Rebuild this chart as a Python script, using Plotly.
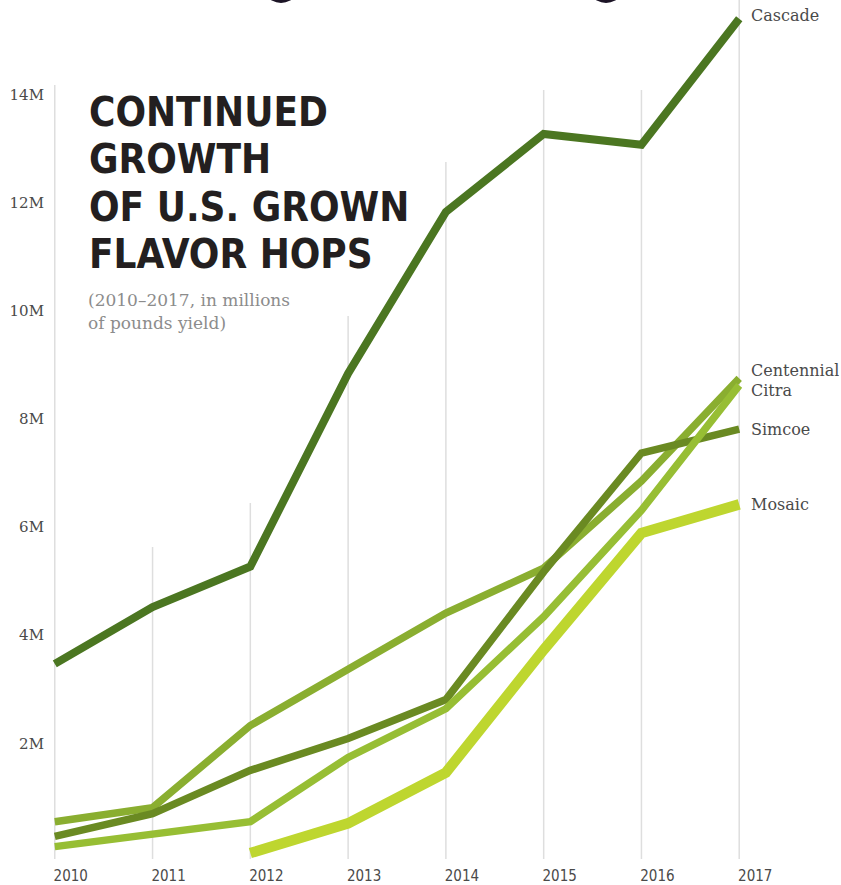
import plotly.graph_objects as go

# ---------------- data (millions of pounds) ----------------
years = [2010, 2011, 2012, 2013, 2014, 2015, 2016, 2017]
cascade = [3.47, 4.52, 5.27, 8.84, 11.83, 13.27, 13.07, 15.40]
centennial = [0.55, 0.81, 2.33, 3.38, 4.41, 5.24, 6.85, 8.75]
simcoe = [0.28, 0.70, 1.50, 2.09, 2.81, 5.17, 7.37, 7.81]
citra = [0.09, 0.31, 0.55, 1.74, 2.64, 4.34, 6.31, 8.62]
mosaic_years = [2012, 2013, 2014, 2015, 2016, 2017]
mosaic = [-0.03, 0.52, 1.46, 3.73, 5.89, 6.42]

series_names = ["Cascade", "Centennial", "Simcoe", "Citra", "Mosaic"]
y_tick_vals = [2, 4, 6, 8, 10, 12, 14]
y_tick_text = ["2M", "4M", "6M", "8M", "10M", "12M", "14M"]
title_lines = ["CONTINUED", "GROWTH", "OF U.S. GROWN", "FLAVOR HOPS"]
subtitle_lines = ["(2010\u20132017, in millions", "of pounds yield)"]

# ---------------- layout geometry ----------------
W, H = 841, 885
ML, MR, MT, MB = 45, 92, 8, 20
PW, PH = W - ML - MR, H - MT - MB
XR = [2009.9, 2017.1]
YR = [-0.25, 15.6]

def px_x(px):
    return (px - ML) / PW

def px_y(py):
    return 1 - (py - MT) / PH

colors = {
    "Cascade": "#4b7621",
    "Centennial": "#8aae30",
    "Simcoe": "#6a8a22",
    "Citra": "#97be34",
    "Mosaic": "#bed62f",
}
widths = {"Cascade": 8, "Centennial": 7.5, "Simcoe": 7.5, "Citra": 7.5, "Mosaic": 10.5}

fig = go.Figure()
data_map = {
    "Cascade": (years, cascade),
    "Centennial": (years, centennial),
    "Simcoe": (years, simcoe),
    "Citra": (years, citra),
    "Mosaic": (mosaic_years, mosaic),
}
for name in series_names:
    xs, ys = data_map[name]
    fig.add_trace(go.Scatter(
        x=xs, y=ys, mode="lines", name=name,
        line=dict(color=colors[name], width=widths[name]),
        hoverinfo="skip",
    ))

# vertical guide lines of varying heights (pixel tops)
grid_tops_px = [85, 547, 503, 316, 162, 90, 90, -20]
shapes = []
for yr, top in zip(years, grid_tops_px):
    shapes.append(dict(
        type="line", xref="x", yref="paper", x0=yr, x1=yr,
        y0=px_y(859), y1=px_y(top), layer="below",
        line=dict(color="#dedede", width=1.5),
    ))

# cropped dark artwork at the very top
for cx in [281, 606]:
    shapes.append(dict(
        type="circle", xref="paper", yref="paper",
        x0=px_x(cx - 24), x1=px_x(cx + 24),
        y0=px_y(3), y1=px_y(-60),
        fillcolor="#1c1426", line=dict(width=0), layer="above",
    ))

annotations = []
label_font = dict(family="DejaVu Serif", size=16, color="#4a4a4a")
label_shift = {"Cascade": 4, "Centennial": 8, "Simcoe": 0, "Citra": -5, "Mosaic": 0}
for name in series_names:
    xs, ys = data_map[name]
    annotations.append(dict(
        x=xs[-1], y=ys[-1], xref="x", yref="y", text=name,
        showarrow=False, xanchor="left", yanchor="middle",
        xshift=10, yshift=label_shift[name], font=label_font,
        height=18,
    ))

title_y_px = [112, 159, 207, 254]
for line, py in zip(title_lines, title_y_px):
    annotations.append(dict(
        x=px_x(87), y=px_y(py), xref="paper", yref="paper", text=line,
        showarrow=False, xanchor="left", yanchor="middle",
        font=dict(family="DejaVu Sans Condensed, Liberation Sans Narrow, sans-serif",
                  size=40, color="#231f20", weight=700),
    ))
sub_y_px = [300, 323]
for line, py in zip(subtitle_lines, sub_y_px):
    annotations.append(dict(
        x=px_x(86), y=px_y(py), xref="paper", yref="paper", text=line,
        showarrow=False, xanchor="left", yanchor="middle",
        font=dict(family="DejaVu Serif", size=17, color="#8c8c8c"),
    ))

fig.update_layout(
    width=W, height=H,
    margin=dict(l=ML, r=MR, t=MT, b=MB, pad=0),
    paper_bgcolor="white", plot_bgcolor="white",
    showlegend=False,
    shapes=shapes, annotations=annotations,
    xaxis=dict(
        range=XR, tickvals=years, ticktext=[str(y) for y in years],
        showgrid=False, zeroline=False, showline=False, ticks="",
        tickfont=dict(family="DejaVu Sans Condensed, Liberation Sans Narrow, sans-serif",
                      size=15, color="#4a4a4a"),
        ticklabelshift=16, ticklabelstandoff=0,
        automargin=False, fixedrange=True,
    ),
    yaxis=dict(
        range=YR, tickvals=y_tick_vals, ticktext=y_tick_text,
        showgrid=False, zeroline=False, showline=False, ticks="",
        tickfont=dict(family="DejaVu Serif", size=15, color="#4a4a4a"),
        ticklabelstandoff=0,
        automargin=False, fixedrange=True,
    ),
)

fig.write_html("out.html")
